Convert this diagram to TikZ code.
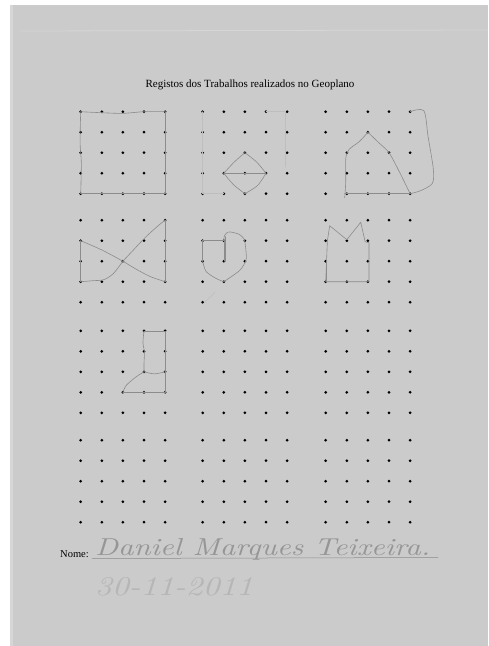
\documentclass[tikz,border=0pt]{standalone}
\usepackage{fontspec}
\newfontfamily\printfont{Liberation Serif}
\usepackage{tikz}

\definecolor{paper}{RGB}{203,203,203}
\definecolor{paperedge}{RGB}{214,214,214}
\definecolor{pin}{RGB}{148,148,148}
\definecolor{pencil}{RGB}{140,140,140}
\definecolor{erased}{RGB}{190,190,190}
\definecolor{ink}{RGB}{150,150,150}

\begin{document}
\begin{tikzpicture}[x=1pt,y=-1pt,
  pencil/.style={draw=pencil, line width=0.6pt, line join=round, line cap=round},
  erased/.style={draw=erased, line width=0.45pt, line cap=round},
  board/.style={x=21.1pt, y=-20.5pt},
  handwriting/.style={anchor=base west, text=ink}]
\tikzstyle{every node}+=[inner sep=0pt]
% the scanned sheet
\fill [white] (0,0) rectangle (488,646);
\fill [paper] (10,5) rectangle (488,646);
\fill [paperedge] (10,5) rectangle (13,646);
\draw [paperedge, line width=0.8pt] (20,31) -- (488,30);
\useasboundingbox (0,0) rectangle (488,646);

\node [anchor=base] (title) at (250,87) {\printfont\fontsize{11}{13}\selectfont Registos dos Trabalhos realizados no Geoplano};

% pins of the twelve boards
\foreach \r/\ry in {1/111.7,2/220.2,3/330.8,4/440.2}
  \foreach \c/\cx in {1/80.7,2/202.7,3/325.7}
    \foreach \i in {0,...,4}
      \foreach \j in {0,...,4} {
        \coordinate (g\r\c-\i-\j) at ({\cx+21.1*\i},{\ry+20.5*\j});
        \fill [pin] (g\r\c-\i-\j) circle (1.5);
      }

% square
\begin{scope}[shift={(g11-0-0)}, board]
\draw [pencil] plot [smooth] coordinates {(0,0) (1,0.05) (2,0.08) (3,0) (4,0)};
\draw [pencil] (4,0) -- (4,4) -- (0,4);
\draw [pencil] plot [smooth] coordinates {(0,4) (0.03,2.5) (-0.03,1.5) (0,0)};
\end{scope}

% diamond
\begin{scope}[shift={(g12-0-0)}, board]
\draw [erased] (0,0) -- (0,4) -- (1,4);
\draw [erased] (3,0) -- (3.9,0) -- (3.9,2.7);
\draw [pencil] (1,3) -- (3,3);
\draw [pencil] plot [smooth] coordinates {(1,3) (1.5,2.45) (2,2)};
\draw [pencil] plot [smooth] coordinates {(2,2) (2.55,2.45) (3,3)};
\draw [pencil] plot [smooth] coordinates {(1,3) (1.45,3.55) (2,4)};
\draw [pencil] plot [smooth] coordinates {(2,4) (2.6,3.6) (3,3)};
\end{scope}

% house
\begin{scope}[shift={(g13-0-0)}, board]
\draw [pencil] plot [smooth] coordinates {(2,1) (1.6,1.45) (1.1,1.85) (0.95,2.3) (0.95,3.4) (0.9,4.2)};
\draw [pencil] (0.9,4) -- (4,4);
\draw [pencil] plot [smooth] coordinates {(2,1) (2.5,1.5) (3,2) (3.5,2.95) (4,4)};
\draw [pencil] plot [smooth] coordinates {(4,0) (4.65,-0.05) (4.85,1.2) (5.1,2.8) (5.05,3.5) (4.5,3.85) (4,4)};
\end{scope}

% bow
\begin{scope}[shift={(g21-0-0)}, board]
\draw [pencil] (0,1) -- (0,3);
\draw [pencil] plot [smooth] coordinates {(0,1) (1,1.45) (2,2)};
\draw [pencil] plot [smooth] coordinates {(0,3) (0.6,2.95) (1.1,2.9) (1.55,2.6) (2,2)};
\draw [pencil] plot [smooth] coordinates {(2,2) (2.5,1.45) (3.1,0.8) (3.75,0.2) (4,0)};
\draw [pencil] (4,0) -- (4,3);
\draw [pencil] plot [smooth] coordinates {(4,3) (3.3,2.75) (2.65,2.4) (2,2)};
\end{scope}

% heart
\begin{scope}[shift={(g22-0-0)}, board]
\draw [pencil] (0,2) -- (0,1) -- (1,1) -- (1,2);
\draw [pencil] (1.06,0.8) -- (1.06,2);
\draw [pencil] plot [smooth] coordinates {(1,1) (1.03,0.75) (1.2,0.58) (1.45,0.6) (1.75,0.7) (1.95,0.9) (2,1.05)};
\draw [pencil] plot [smooth] coordinates {(2,1.05) (2.05,1.5) (2.05,1.95) (1.75,2.45) (1,3)};
\draw [pencil] plot [smooth] coordinates {(0,2) (0.16,2.5) (0.63,2.84) (1,3)};
\draw [erased] (0.1,4) -- (0.6,3.5);
\end{scope}

% crown
\begin{scope}[shift={(g23-0-0)}, board]
\draw [pencil] (0,3) -- (0.08,1) -- (0.19,0.27) -- (1,0.95) -- (1.66,0.1) -- (1.87,1.05) -- (2.05,1.1) -- (2.05,2.95) -- (2,3) -- cycle;
\draw [pencil] (0.04,2) -- (0.04,3);
\end{scope}

% boot
\begin{scope}[shift={(g31-0-0)}, board]
\draw [pencil] (3,0) -- (4,0) -- (4,3) -- (2,3);
\draw [pencil] plot [smooth] coordinates {(3,0) (2.95,0.6) (3.02,1) (3,1.6) (3,2)};
\draw [pencil] plot [smooth] coordinates {(3,2) (3.5,2.1) (4,2)};
\draw [pencil] plot [smooth] coordinates {(2,3) (2.16,2.66) (2.62,2.25) (3,2)};
\end{scope}

% name line
\node [anchor=base west] (nome) at (60,557) {\printfont\fontsize{10.5}{12}\selectfont Nome:};
\coordinate (lineL) at (92,558.5);
\coordinate (lineR) at (438,557.5);
\draw [pencil, line width=0.5pt] (lineL) -- (lineR);
\node [handwriting] (aluno) at (95,555) {\resizebox{335pt}{17pt}{\itshape Daniel Marques Teixeira.}};
\node [handwriting, text=ink!70!white] (data) at (95,595) {\resizebox{158pt}{18pt}{\itshape 30-11-2011}};
\end{tikzpicture}
\end{document}
